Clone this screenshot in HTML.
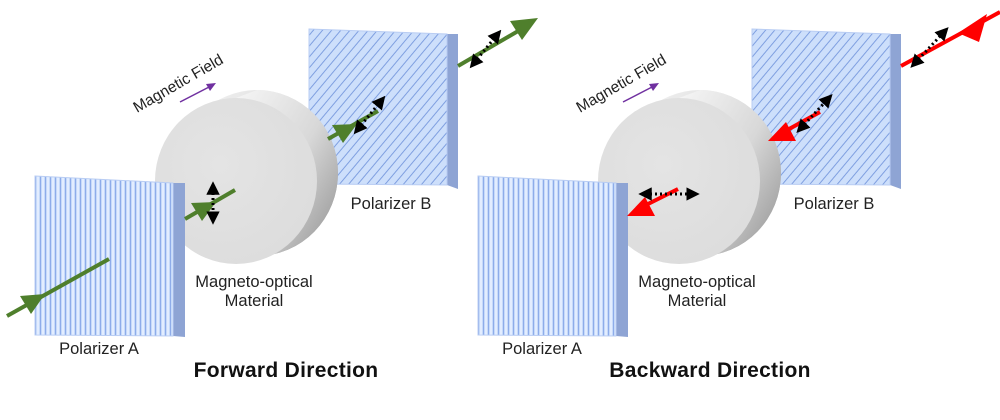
<!DOCTYPE html>
<html><head><meta charset="utf-8"><style>
html,body{margin:0;padding:0;background:#fff;}
svg{display:block;font-family:"Liberation Sans",Arial,sans-serif;}
</style></head><body>
<svg width="1000" height="420" viewBox="0 0 1000 420" xmlns="http://www.w3.org/2000/svg">
<defs>
<pattern id="vs" width="5" height="10" patternUnits="userSpaceOnUse">
<rect width="5" height="10" fill="#c6daf9"/>
<rect x="0" width="1" height="10" fill="#8eacea"/>
<rect x="2" width="2" height="10" fill="#e3edff"/>
</pattern>
<pattern id="hs" width="7" height="7" patternUnits="userSpaceOnUse" patternTransform="rotate(40)">
<rect width="7" height="7" fill="#cddffb"/>
<rect x="0" width="1" height="7" fill="#7f9fe0"/>
</pattern>
<linearGradient id="side" x1="0" y1="0" x2="1" y2="1">
<stop offset="0" stop-color="#f6f6f6"/><stop offset="0.5" stop-color="#d8d8d8"/><stop offset="1" stop-color="#8c8c8c"/>
</linearGradient>
<radialGradient id="face" cx="0.4" cy="0.4" r="0.7">
<stop offset="0" stop-color="#e4e4e4"/><stop offset="1" stop-color="#dcdcdc"/>
</radialGradient>
<marker id="dh" viewBox="0 0 10 10" refX="5" refY="5" markerWidth="4.5" markerHeight="4.5" orient="auto-start-reverse"><path d="M0,0 L10,5 L0,10 z" fill="#000"/></marker>
</defs>

<!-- ===== LEFT PANEL ===== -->
<g id="left">
<polygon points="447,34 458,34 458,189 447,185" fill="#8ea4d4"/>
<polygon points="309,29 447,34 447,185 309,184" fill="url(#hs)" stroke="#b9cdf3" stroke-width="1"/>
<ellipse cx="257" cy="173" rx="81" ry="83" fill="url(#side)"/>
<path d="M236,98 L257,90 A81,83 0 0 1 257,256 L236,264 Z" fill="url(#side)"/>
<ellipse cx="236" cy="181" rx="81" ry="83" fill="url(#face)"/>
<polygon points="173,183 185,183 185,337 173,336" fill="#8ea4d4"/>
<polygon points="35,176 173,183 173,336 35,335" fill="url(#vs)" stroke="#b9cdf3" stroke-width="1"/>
<g stroke="#4f7f2c" stroke-width="4" fill="#4f7f2c">
<line x1="7" y1="316" x2="109" y2="259"/>
<line x1="185" y1="219" x2="235" y2="190"/>
<line x1="328" y1="139" x2="378" y2="111"/>
<line x1="458" y1="66" x2="525" y2="27"/>
</g>
<g fill="#4f7f2c">
<polygon points="45,294 20,296 31,314" />
<polygon points="216,202 191,203 202,221"/>
<polygon points="357,124 332,125 343,143"/>
<polygon points="538,18 510,21 522,40"/>
</g>
<g stroke="#000" stroke-width="3" stroke-dasharray="2,3" marker-start="url(#dh)" marker-end="url(#dh)">
<line x1="213" y1="188" x2="213" y2="218"/>
<line x1="358" y1="129" x2="381" y2="101"/>
<line x1="474" y1="63" x2="497" y2="35"/>
</g>
<text x="0" y="0" font-size="15.5" fill="#222" transform="translate(137,113) rotate(-30)">Magnetic Field</text>
<line x1="180" y1="102" x2="211" y2="86" stroke="#7030a0" stroke-width="1.5"/>
<polygon points="216,83 206,84 210,91" fill="#7030a0"/>
<text x="391" y="209" font-size="16.5" fill="#222" text-anchor="middle">Polarizer B</text>
<text x="254" y="287" font-size="16.5" fill="#222" text-anchor="middle">Magneto-optical</text>
<text x="254" y="306" font-size="16.5" fill="#222" text-anchor="middle">Material</text>
<text x="99" y="354" font-size="16.5" fill="#222" text-anchor="middle">Polarizer A</text>
<text x="286" y="377" font-size="21" font-weight="bold" fill="#111" text-anchor="middle" letter-spacing="0.3">Forward  Direction</text>
</g>

<!-- ===== RIGHT PANEL ===== -->
<g transform="translate(443,0)">
<polygon points="447,34 458,34 458,189 447,185" fill="#8ea4d4"/>
<polygon points="309,29 447,34 447,185 309,184" fill="url(#hs)" stroke="#b9cdf3" stroke-width="1"/>
<ellipse cx="257" cy="173" rx="81" ry="83" fill="url(#side)"/>
<path d="M236,98 L257,90 A81,83 0 0 1 257,256 L236,264 Z" fill="url(#side)"/>
<ellipse cx="236" cy="181" rx="81" ry="83" fill="url(#face)"/>
<polygon points="173,183 185,183 185,337 173,336" fill="#8ea4d4"/>
<polygon points="35,176 173,183 173,336 35,335" fill="url(#vs)" stroke="#b9cdf3" stroke-width="1"/>
<text x="0" y="0" font-size="15.5" fill="#222" transform="translate(137,113) rotate(-30)">Magnetic Field</text>
<line x1="180" y1="102" x2="211" y2="86" stroke="#7030a0" stroke-width="1.5"/>
<polygon points="216,83 206,84 210,91" fill="#7030a0"/>
<text x="391" y="209" font-size="16.5" fill="#222" text-anchor="middle">Polarizer B</text>
<text x="254" y="287" font-size="16.5" fill="#222" text-anchor="middle">Magneto-optical</text>
<text x="254" y="306" font-size="16.5" fill="#222" text-anchor="middle">Material</text>
<text x="99" y="354" font-size="16.5" fill="#222" text-anchor="middle">Polarizer A</text>
<text x="267" y="377" font-size="21" font-weight="bold" fill="#111" text-anchor="middle" letter-spacing="0.3">Backward  Direction</text>
</g>
<g stroke="#ff0000" stroke-width="4">
<line x1="901" y1="66" x2="1000" y2="12"/>
<line x1="780" y1="134" x2="820" y2="112"/>
<line x1="638" y1="209" x2="678" y2="189"/>
</g>
<g fill="#ff0000">
<polygon points="958,33 987,14 979,42"/>
<polygon points="768,141 786,122 796,141"/>
<polygon points="627,216 645,197 655,216"/>
</g>
<g stroke="#000" stroke-width="3" stroke-dasharray="2,3" marker-start="url(#dh)" marker-end="url(#dh)">
<line x1="915" y1="63" x2="944" y2="32"/>
<line x1="801" y1="128" x2="828" y2="99"/>
<line x1="645" y1="194" x2="693" y2="194"/>
</g>
</svg>
</body></html>
